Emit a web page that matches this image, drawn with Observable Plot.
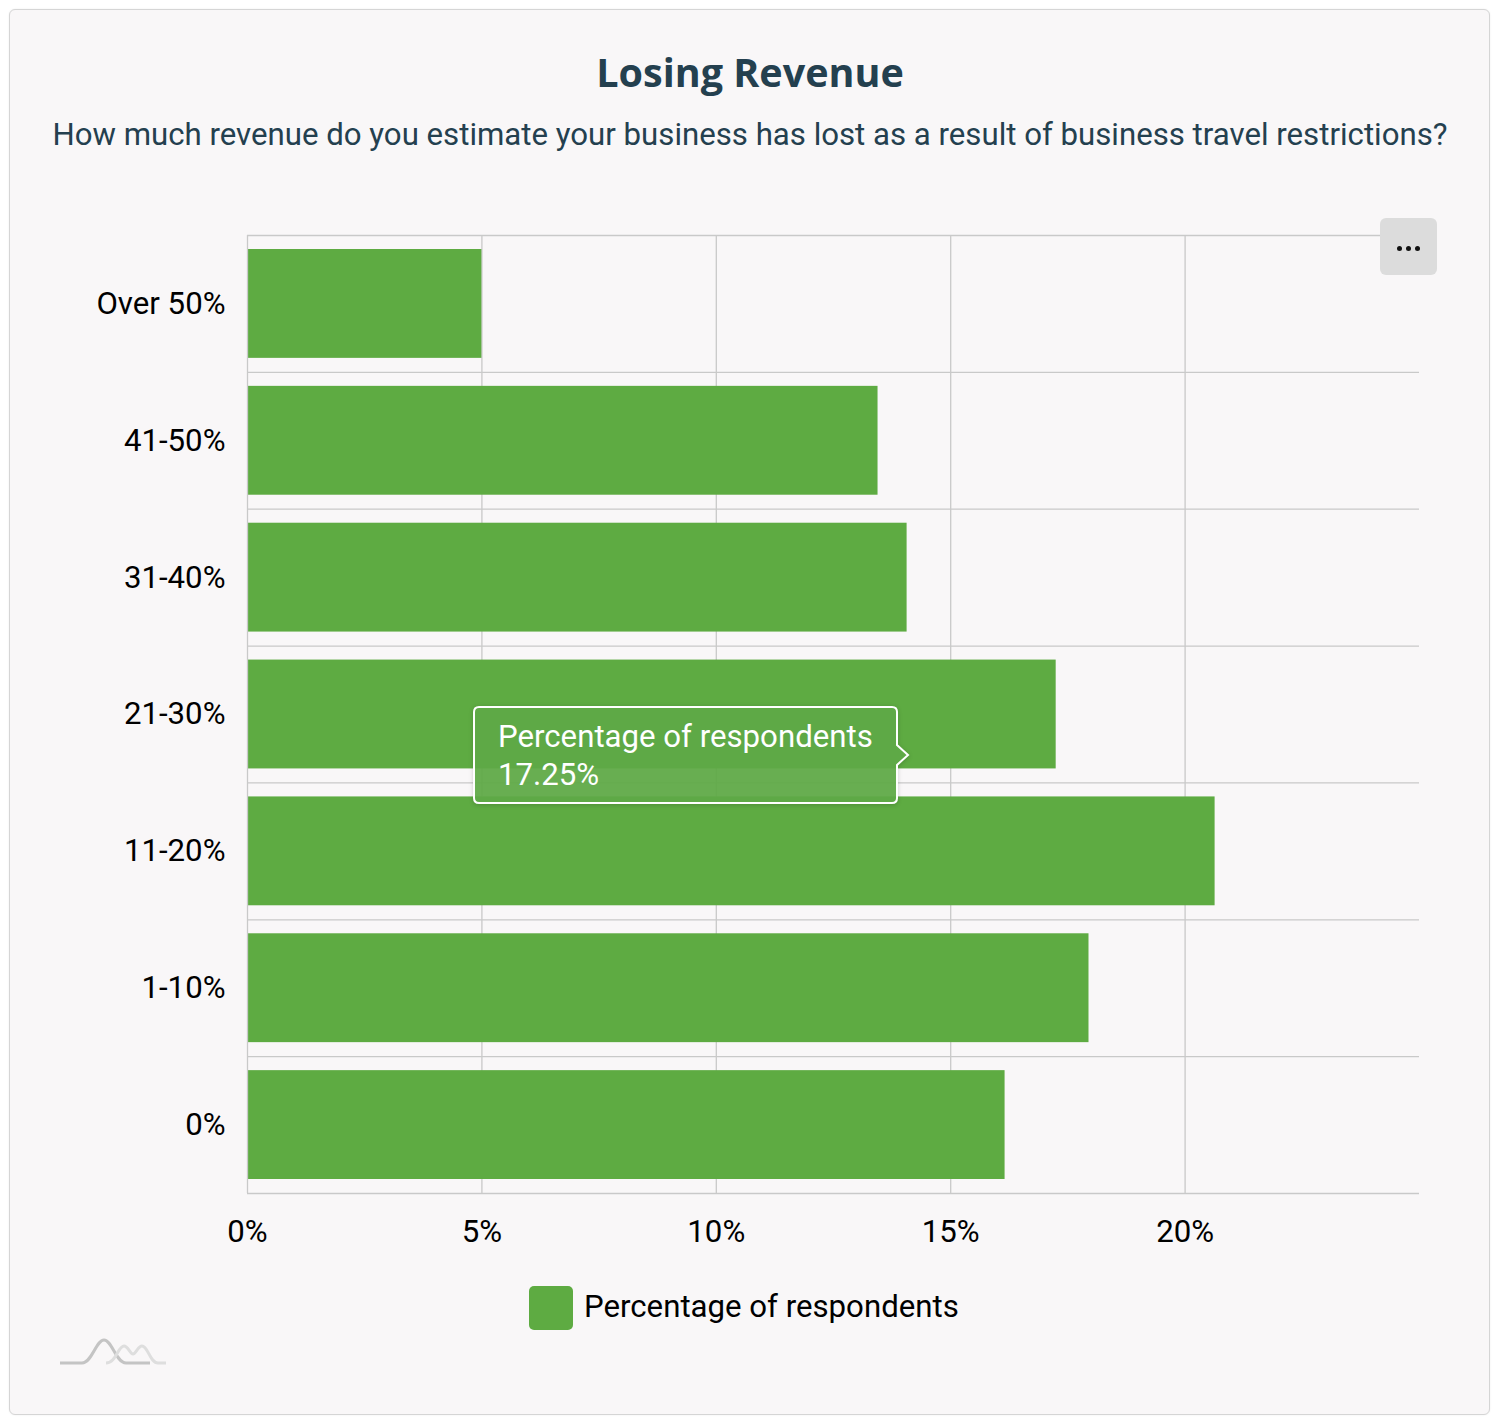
<!DOCTYPE html>
<html>
<head>
<meta charset="utf-8">
<script src="https://cdn.jsdelivr.net/npm/d3@7"></script>
<script src="https://cdn.jsdelivr.net/npm/@observablehq/plot@0.6"></script>
<style>
  html, body { margin: 0; padding: 0; background: #ffffff; }
  body { width: 1500px; height: 1426px; position: relative; overflow: hidden; font-family: Roboto, sans-serif; }
  #card { position: absolute; left: 9px; top: 9px; width: 1479px; height: 1404px; border: 1.5px solid #d5d5d5; border-radius: 6px; background: #f9f7f8; box-shadow: 0 0 2px rgba(0,0,0,0.08); }
  #title { position: absolute; left: 0; width: 1500px; top: 53px; text-align: center; font: 700 39.5px/39.5px "Open Sans", sans-serif; color: #24404f; white-space: nowrap; }
  #subtitle { position: absolute; left: 0; width: 1500px; top: 119px; text-align: center; font: 400 31.2px/31.2px Roboto, sans-serif; color: #24404f; white-space: nowrap; }
  #chart { position: absolute; left: 0; top: 200px; }
  #legend { position: absolute; top: 1286px; left: 529px; display: flex; align-items: flex-start; }
  #legend .sw { width: 44px; height: 44px; border-radius: 5px; background: #5eab42; }
  #legend .lab { margin-left: 11px; margin-top: 5px; font: 400 31.2px/31.2px Roboto, sans-serif; color: #000; white-space: nowrap; }
  #menu { position: absolute; left: 1380px; top: 218px; width: 57px; height: 57px; border-radius: 6px; background: #dcdcdc; }
  #menu span { position: absolute; top: 28px; width: 5px; height: 5px; border-radius: 50%; background: #111; }
  #logo { position: absolute; left: 58px; top: 1336px; }
</style>
</head>
<body>
<div id="card"></div>
<div id="title"></div>
<div id="subtitle"></div>
<div id="chart"></div>
<div id="legend"><div class="sw"></div><div class="lab"></div></div>
<div id="menu"><span style="left:17px"></span><span style="left:26px"></span><span style="left:35px"></span></div>
<svg id="logo" width="110" height="32" viewBox="0 0 110 32">
  <path d="M2,27 H24 C34,27 38,4 46,4 C54,4 58,27 68,27 H92" fill="none" stroke="#c4c4c4" stroke-width="3"/>
  <path d="M48,27 C58,27 60,10 66,10 C70,10 72,18 75,18 C78,18 80,10 84,10 C90,10 92,27 100,27 H108" fill="none" stroke="#dedede" stroke-width="3"/>
</svg>
<script>
// ---- data ----
const titleText = "Losing Revenue";
const subtitleText = "How much revenue do you estimate your business has lost as a result of business travel restrictions?";
const seriesName = "Percentage of respondents";
const categories = ["Over 50%", "41-50%", "31-40%", "21-30%", "11-20%", "1-10%", "0%"];
const values = [5.0, 13.45, 14.07, 17.25, 20.64, 17.95, 16.16];
const xTicks = [0, 5, 10, 15, 20];
const xDomain = [0, 25];
const tooltipCategory = "21-30%";
const tooltipValue = 17.25;
const tooltipPointerX = 14.1;

document.getElementById("title").textContent = titleText;
document.getElementById("subtitle").textContent = subtitleText;
document.querySelector("#legend .lab").textContent = seriesName;

const data = categories.map((c, i) => ({category: c, value: values[i]}));

const W = 1500, H = 1063, mT = 35, mB = 70, mL = 247, mR = 81;
const bandH = (H - mT - mB) / categories.length;
const green = "#5eab42";
const gridColor = "#c9c9c9";
const fs = 31.2;

function tooltip(index, scales, values, dimensions) {
  const ys = scales.scales && scales.scales.y;
  let top, bw;
  if (ys && ys.apply) { top = ys.apply(tooltipCategory); bw = ys.bandwidth; }
  else { bw = bandH; top = dimensions.marginTop + categories.indexOf(tooltipCategory) * bandH; }
  const px = scales.x(tooltipPointerX);
  const py = top + bw * 0.8;
  const right = px - 11, left = right - 423, t = py - 48, b = py + 48, r = 5, ph = 10;
  const g = d3.create("svg:g");
  g.append("path")
    .attr("d", `M${left + r},${t} H${right - r} Q${right},${t} ${right},${t + r} V${py - ph} L${px},${py} L${right},${py + ph} V${b - r} Q${right},${b} ${right - r},${b} H${left + r} Q${left},${b} ${left},${b - r} V${t + r} Q${left},${t} ${left + r},${t} Z`)
    .attr("fill", "#60ab47").attr("fill-opacity", 0.93)
    .attr("stroke", "#ffffff").attr("stroke-width", 2)
    .style("filter", "drop-shadow(0 1px 2px rgba(0,0,0,0.18))");
  const txt = g.append("text").attr("fill", "#ffffff").attr("font-family", "Roboto")
    .attr("font-size", fs).attr("text-anchor", "start");
  txt.append("tspan").attr("x", left + 24).attr("y", t + 40).text(seriesName);
  txt.append("tspan").attr("x", left + 24).attr("y", t + 78).text(tooltipValue.toFixed(2) + "%");
  return g.node();
}

const chart = Plot.plot({
  width: W, height: H,
  marginTop: mT, marginBottom: mB, marginLeft: mL, marginRight: mR,
  style: {background: "transparent", fontFamily: "Roboto", fontSize: fs + "px", color: "#000", overflow: "visible"},
  x: {domain: xDomain},
  y: {domain: categories, padding: 0, round: false},
  marks: [
    Plot.gridX(xTicks.filter(d => d > 0), {stroke: gridColor, strokeOpacity: 1, strokeWidth: 1.3}),
    Plot.tickY(categories, {y: d => d, dy: bandH / 2, stroke: gridColor, strokeOpacity: 1, strokeWidth: 1.3}),
    Plot.tickY(categories.slice(0, 1), {y: d => d, dy: -bandH / 2, stroke: gridColor, strokeOpacity: 1, strokeWidth: 1.3}),
    Plot.barX(data, {x: "value", y: "category", fill: green, insetTop: 14, insetBottom: 14, insetLeft: 1}),
    Plot.ruleX([0], {stroke: gridColor, strokeWidth: 1.3}),
    Plot.axisX({ticks: xTicks, tickFormat: d => d + "%", tickSize: 0, tickPadding: 26, fontSize: fs, label: null}),
    Plot.axisY({tickSize: 0, tickPadding: 22, fontSize: fs, label: null}),
    tooltip
  ]
});
document.getElementById("chart").appendChild(chart);
</script>
</body>
</html>
